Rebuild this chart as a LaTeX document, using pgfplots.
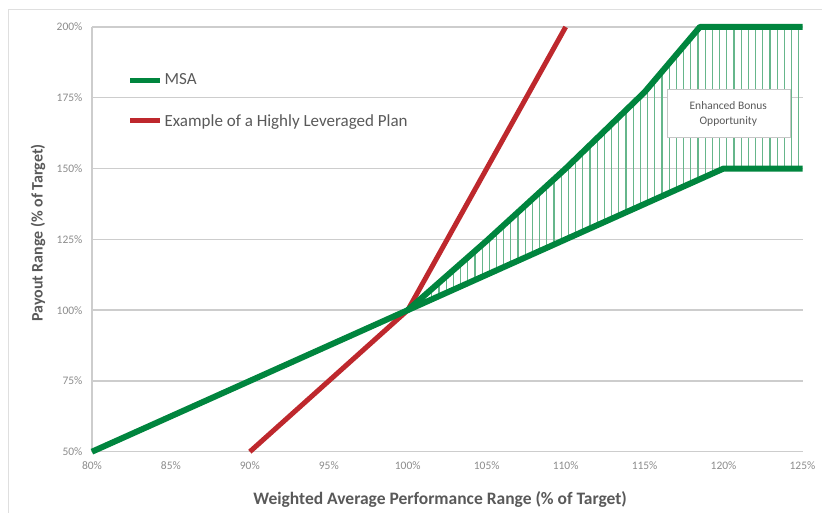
\documentclass[border=0pt]{standalone}
\usepackage{pgfplots}
\pgfplotsset{compat=1.18}
\usepgfplotslibrary{fillbetween}
\usetikzlibrary{patterns.meta}
\usepackage{fontspec}
\setmainfont{Carlito}
\definecolor{msagreen}{RGB}{0,133,62}
\definecolor{levred}{RGB}{190,40,45}
\definecolor{txtgray}{RGB}{89,89,89}
\definecolor{tickgray}{RGB}{140,140,140}
\definecolor{gridgray}{RGB}{205,205,205}
\begin{document}
\begin{tikzpicture}
\path (0pt,0pt) rectangle (822pt,513pt);
\draw[gray!25, line width=1pt] (9pt,0pt) -- (9pt,503pt) -- (822pt,503pt);
\begin{axis}[at={(92pt,61pt)}, anchor=south west, scale only axis,
  width=711pt, height=425pt,
  xmin=80, xmax=125, ymin=50, ymax=200,
  xtick={80,85,90,95,100,105,110,115,120,125},
  ytick={50,75,100,125,150,175,200},
  xticklabel={\pgfmathprintnumber{\tick}\%},
  yticklabel={\pgfmathprintnumber{\tick}\%},
  /pgf/number format/assume math mode=true,
  ymajorgrids, grid style={gridgray, line width=1.3pt},
  axis lines*=left,
  x axis line style={draw=none},
  y axis line style={gridgray, line width=1.3pt},
  major tick length=0pt,
  tick label style={font=\fontsize{11.5}{13}\selectfont, text=tickgray},
  xticklabel style={yshift=-6pt},
  yticklabel style={xshift=-6pt},
  xlabel={Weighted Average Performance Range (\% of Target)},
  ylabel={Payout Range (\% of Target)},
  xlabel style={at={(axis description cs:0.49,-0.113)}, anchor=center, font=\bfseries\fontsize{17.5}{20}\selectfont, text=txtgray},
  ylabel style={at={(axis description cs:-0.076,0.515)}, anchor=center, font=\bfseries\fontsize{16}{19}\selectfont, text=txtgray},
  legend style={at={(axis description cs:0.05,0.895)}, anchor=north west, draw=none, fill=none,
    font=\fontsize{17}{20}\selectfont, text=txtgray, row sep=24pt, inner sep=0pt},
  legend cell align=left,
  legend image code/.code={\draw[#1, line width=5pt] (0pt,0pt) -- (30pt,0pt);},
  clip=false,
]
\addplot[draw=none, name path=upper, forget plot] coordinates {(100,100) (105,124.5) (110,150) (115,177) (118.5,200) (125,200)};
\addplot[draw=none, name path=lower, forget plot] coordinates {(100,100) (120,150) (125,150)};
\addplot[pattern={Lines[angle=90,distance=7.2pt,line width=1.2pt]}, pattern color=msagreen!60, draw=none, forget plot] fill between[of=upper and lower];
\addplot[levred, line width=5pt, line join=round, forget plot] coordinates {(90,50) (100,100) (110,200)};
\addplot[msagreen, line width=6pt, line join=round, forget plot] coordinates {(80,50) (100,100) (120,150) (125,150)};
\addplot[msagreen, line width=6pt, line join=round, forget plot] coordinates {(100,100) (105,124.5) (110,150) (115,177) (118.5,200) (125,200)};
\addlegendimage{msagreen}
\addlegendentry{MSA}
\addlegendimage{levred}
\addlegendentry{Example of a Highly Leveraged Plan}
\node[draw=gray!45, fill=white, minimum width=123pt, minimum height=48pt, align=center,
  font=\fontsize{11.5}{15}\selectfont, text=txtgray] at (axis cs:120.3,169.4) {Enhanced Bonus\\Opportunity};
\end{axis}
\end{tikzpicture}
\end{document}
